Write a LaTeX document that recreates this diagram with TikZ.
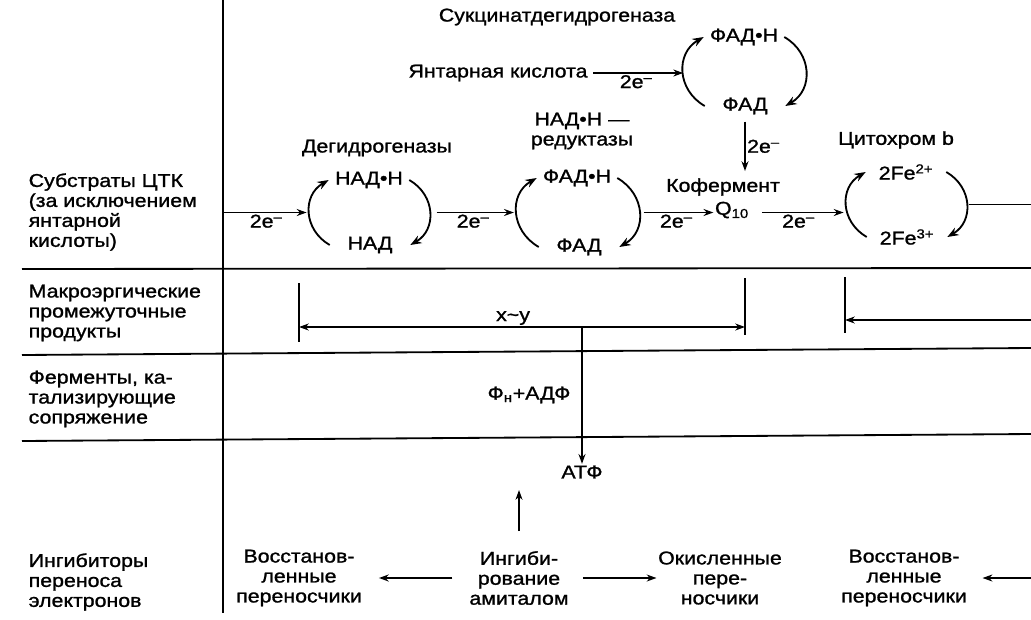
\documentclass[tikz,border=0pt]{standalone}
\usepackage{fontspec}
\setmainfont{Liberation Sans}[FakeStretch=1.15, FakeBold=1.2]
\usetikzlibrary{arrows.meta}
\begin{document}
\begin{tikzpicture}[x=0.025cm, y=-0.025cm,
        every node/.style={font=\fontsize{13.2}{14.2}\selectfont, inner sep=1pt},
        carrier/.style={minimum width=2cm},
        cyc/.style={-{Stealth[length=8pt, width=6pt]}, line width=1.3pt, looseness=1.2},
        el/.style={-{Stealth[length=7pt, width=5pt]}, line width=1pt},
        row/.style={anchor=west, align=left}]
        \useasboundingbox (0,0) rectangle (1031,619);

        \coordinate (vtop) at (223,0);
        \coordinate (vbot) at (223,613);
        \coordinate (edge) at (1031,0);
        \draw[line width=1.3pt] (vtop) -- (vbot);
        \draw[line width=1.3pt] (22,269) -- (1031,268);
        \draw[line width=1.3pt] (22,355) -- (1031,348);
        \draw[line width=1.3pt] (22,441) -- (1031,434);

        \node[row] (subst) at (27,212) {Субстраты ЦТК\\(за исключением\\янтарной\\кислоты)};
        \node[row] (macro) at (27,313) {Макроэргические\\промежуточные\\продукты};
        \node[row] (ferm) at (27,399) {Ферменты, ка-\\тализирующие\\сопряжение};
        \node[row] (inhib) at (27,582) {Ингибиторы\\переноса\\электронов};

        \node (sdh) at (557,17) {Сукцинатдегидрогеназа};
        \node (succ) at (498,73) {Янтарная кислота};
        \node[carrier] (fadh0) at (744,37) {ФАД•Н};
        \node[carrier] (fad0) at (745,106) {ФАД};

        \node (dhg) at (377,148) {Дегидрогеназы};
        \node[carrier] (nadh1) at (369,180) {НАД•Н};
        \node[carrier] (nad1) at (370,245) {НАД};

        \node[align=center] (red) at (582,131) {НАД•Н —\\редуктазы};
        \node[carrier] (fadh2) at (577,178) {ФАД•Н};
        \node[carrier] (fad2) at (579,247) {ФАД};

        \node (kof) at (723,187) {Кофермент};
        \node (q10) at (732,210) {Q\textsubscript{10}};

        \node (cytb) at (896,140) {Цитохром b};
        \node[carrier] (fe2) at (906,172) {2Fe\textsuperscript{2+}};
        \node[carrier] (fe3) at (907,237) {2Fe\textsuperscript{3+}};

        \draw[cyc] (fad0.west) to[out=150, in=210] coordinate[pos=.5] (l0) (fadh0.west);
        \draw[cyc] (fadh0.east) to[out=-30, in=30] (fad0.east);
        \draw[cyc] (nad1.west) to[out=150, in=210] coordinate[pos=.5] (l1) (nadh1.west);
        \draw[cyc] (nadh1.east) to[out=-30, in=30] coordinate[pos=.5] (r1) (nad1.east);
        \draw[cyc] (fad2.west) to[out=150, in=210] coordinate[pos=.5] (l2) (fadh2.west);
        \draw[cyc] (fadh2.east) to[out=-30, in=30] coordinate[pos=.5] (r2) (fad2.east);
        \draw[cyc] (fe3.west) to[out=150, in=210] coordinate[pos=.5] (l3) (fe2.west);
        \draw[cyc] (fe2.east) to[out=-30, in=30] coordinate[pos=.5] (r3) (fe3.east);

        \draw[el, shorten <=3] (succ.east) -- (succ.east -| l0) node[midway, below] {2e\textsuperscript{–}};
        \draw[el, shorten >=2] (vtop |- l1) -- (l1) node[midway, below] {2e\textsuperscript{–}};
        \draw[el, shorten <=5, shorten >=2] (r1) -- (r1 -| l2) node[midway, below] {2e\textsuperscript{–}};
        \draw[el, shorten <=3] (r2) -- (r2 -| q10.west) node[midway, below] {2e\textsuperscript{–}};
        \draw[el, shorten <=8, shorten >=2] (q10.east |- r2) -- (r2 -| l3) node[midway, below] {2e\textsuperscript{–}};
        \draw[line width=1pt, shorten <=2] (r3) -- (r3 -| edge);
        \draw[el, shorten <=4, shorten >=4] (fad0.south) -- (fad0.south |- kof.north) node[midway, right] {2e\textsuperscript{–}};

        \coordinate (t1) at (299,283);
        \coordinate (t1e) at (299,342);
        \coordinate (t2) at (745,278);
        \coordinate (t2e) at (745,335);
        \coordinate (t3) at (845,277);
        \coordinate (t3e) at (845,333);
        \draw[line width=0.8pt] (t1) -- (t1e);
        \draw[line width=0.8pt] (t2) -- (t2e);
        \draw[line width=0.8pt] (t3) -- (t3e);
        \coordinate (xy) at (582,327);
        \draw[el, {Stealth[length=7pt, width=5pt]}-{Stealth[length=7pt, width=5pt]}] (t1 |- xy) -- (t2 |- xy) node[pos=.48, above] {x\textasciitilde y};
        \node (atf) at (582,472) {АТФ};
        \draw[el] (xy) -- (atf.north);
        \node (phos) at (529,395) {Ф\textsubscript{н}+АДФ};
        \coordinate (rx) at (1031,320);
        \draw[el] (rx) -- (rx -| t3);

        \node[align=center] (vos1) at (299,578) {Восстанов-\\ленные\\переносчики};
        \node[align=center] (amital) at (519,578) {Ингиби-\\рование\\амиталом};
        \node[align=center] (okisl) at (720,578) {Окисленные\\пере-\\носчики};
        \node[align=center] (vos2) at (904,578) {Восстанов-\\ленные\\переносчики};
        \coordinate (rb) at (1031,578);
        \draw[el, shorten <=11, shorten >=11] (amital) -- (vos1);
        \draw[el, shorten <=9] (amital) -- (okisl);
        \draw[el, shorten >=10] (rb) -- (vos2);
        \draw[el, shorten <=13, shorten >=7] (amital) -- (amital |- atf.south);
    \end{tikzpicture}
\end{document}
